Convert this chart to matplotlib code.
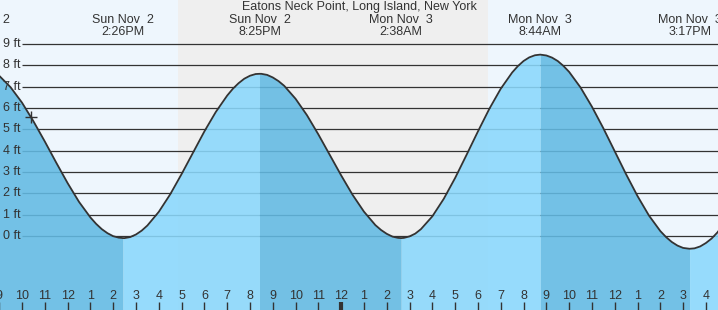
"""
Tide chart for Eatons Neck Point, Long Island, New York
"""

import matplotlib.pyplot as plt
import numpy as np

plt.rcParams['font.family'] = ['Liberation Sans', 'DejaVu Sans']

# hours counted from Sun Nov 2, 00:00
tide_hours = [9.0, 9.5, 10.0, 10.5, 11.0, 11.5, 12.0, 12.5, 13.0, 13.25, 13.5, 13.75, 14.0, 14.25, 14.433,
              14.5, 14.75, 15.0, 15.25, 15.5, 16.0, 16.5, 17.0, 17.5, 18.0, 18.5, 19.0, 19.25, 19.5,
              19.75, 20.0, 20.25, 20.417,
              20.5, 20.75, 21.0, 21.25, 21.5, 22.0, 22.5, 23.0, 23.5, 24.0, 24.5, 25.0, 25.5, 25.75,
              26.0, 26.25, 26.5, 26.633,
              26.75, 27.0, 27.25, 27.5, 28.0, 28.5, 29.0, 29.5, 30.0, 30.5, 31.0, 31.5, 31.75, 32.0,
              32.25, 32.5, 32.733,
              33.0, 33.25, 33.5, 33.75, 34.0, 34.5, 35.0, 35.5, 36.0, 36.5, 37.0, 37.5, 38.0, 38.25,
              38.5, 38.75, 39.0, 39.283,
              39.5, 39.75, 40.0, 40.25, 40.5, 41.0]
tide_ft = [7.51, 6.97, 6.25, 5.38, 4.43, 3.44, 2.48, 1.60, 0.87, 0.57, 0.32, 0.13, -0.01, -0.08, -0.10,
           -0.10, -0.05, 0.07, 0.25, 0.49, 1.13, 1.95, 2.90, 3.90, 4.90, 5.81, 6.58, 6.90, 7.16,
           7.37, 7.51, 7.59, 7.60,
           7.60, 7.55, 7.43, 7.26, 7.04, 6.43, 5.66, 4.76, 3.80, 2.84, 1.93, 1.14, 0.51, 0.28,
           0.10, -0.03, -0.09, -0.10,
           -0.09, -0.02, 0.11, 0.32, 0.92, 1.74, 2.72, 3.80, 4.90, 5.96, 6.90, 7.66, 7.96, 8.20,
           8.37, 8.47, 8.50,
           8.46, 8.36, 8.20, 7.97, 7.69, 6.96, 6.06, 5.05, 3.97, 2.89, 1.87, 0.96, 0.23, -0.05,
           -0.28, -0.45, -0.56, -0.60,
           -0.58, -0.49, -0.33, -0.12, 0.16, 0.86]

# high / low tide events
event_hours = [8.1, 14.433, 20.417, 26.633, 32.733, 39.283]
event_days = ['Sun Nov  2', 'Sun Nov  2', 'Sun Nov  2', 'Mon Nov  3', 'Mon Nov  3', 'Mon Nov  3']
event_times = ['8:06AM', '2:26PM', '8:25PM', '2:38AM', '8:44AM', '3:17PM']

# night (sunset -> sunrise) and current time
night_start = 16.83
night_end = 30.43
now_hour = 10.4
now_ft = 5.58

ft_levels = [0, 1, 2, 3, 4, 5, 6, 7, 8, 9]

hour_ticks = list(range(9, 41))
hour_labels = ['9', '10', '11', '12', '1', '2', '3', '4', '5', '6', '7', '8',
               '9', '10', '11', '12', '1', '2', '3', '4', '5', '6', '7', '8',
               '9', '10', '11', '12', '1', '2', '3', '4']
midnight = 24

title = 'Eatons Neck Point, Long Island, New York'

W, H = 718, 310
ink = '#333333'
falling_color = '#62bae3'
rising_color = '#8ad8fc'

fig = plt.figure(figsize=(W / 100, H / 100), dpi=100)
ax = fig.add_axes([0, 0, 1, 1])
ax.set_xlim(9.035, 40.53)
ax.set_ylim(-3.47, 11.06)
ax.set_facecolor('#eef6fd')
for s in ax.spines.values():
    s.set_visible(False)
ax.set_xticks([])
ax.set_yticks([])

ytr = ax.get_yaxis_transform()
xtr = ax.get_xaxis_transform()

# night band
ax.axvspan(night_start, night_end, color='#efefef', lw=0, zorder=0)

# grid lines + labels
ax.hlines(ft_levels, 22 / W, 1, transform=ytr, colors=ink, lw=0.9, zorder=1)
for lvl in ft_levels:
    ax.text(3 / W, lvl, f'{lvl} ft', transform=ytr, ha='left', va='center',
            fontsize=9, color=ink)

# tide fill, darker while falling
t = np.array(tide_hours)
h = np.array(tide_ft)
bottom = ax.get_ylim()[0]
bounds = [t[0]] + event_hours[1:] + [t[-1]]
for i in range(len(bounds) - 1):
    m = (t >= bounds[i]) & (t <= bounds[i + 1])
    col = falling_color if i % 2 == 0 else rising_color
    ax.fill_between(t[m], h[m], bottom, color=col, alpha=0.88, lw=0, zorder=2)

ax.plot(t, h, color=ink, lw=1.3, zorder=4, solid_joinstyle='round')
ax.plot(now_hour, now_ft, marker='+', ms=9, mew=1, color=ink, zorder=5)

# event labels
for eh, ed, et in zip(event_hours, event_days, event_times):
    ax.text(eh, 1 - 26 / H, f'{ed}\n{et}', transform=xtr, ha='center', va='center',
            fontsize=9, color=ink, linespacing=0.9)

ax.text(0.5, 1 - 7 / H, title, transform=ax.transAxes, ha='center', va='center',
        fontsize=9, color=ink)

# hour ticks along the bottom
ax.vlines(hour_ticks, 0, 8 / H, transform=xtr, colors=ink, lw=1, zorder=5)
ax.vlines([midnight], 0, 8 / H, transform=xtr, colors=ink, lw=3, zorder=5)
for hr, lab in zip(hour_ticks, hour_labels):
    ax.text(hr, 14 / H, lab, transform=xtr, ha='center', va='center',
            fontsize=9, color=ink, zorder=5)

fig.savefig('out.png', dpi=100)
